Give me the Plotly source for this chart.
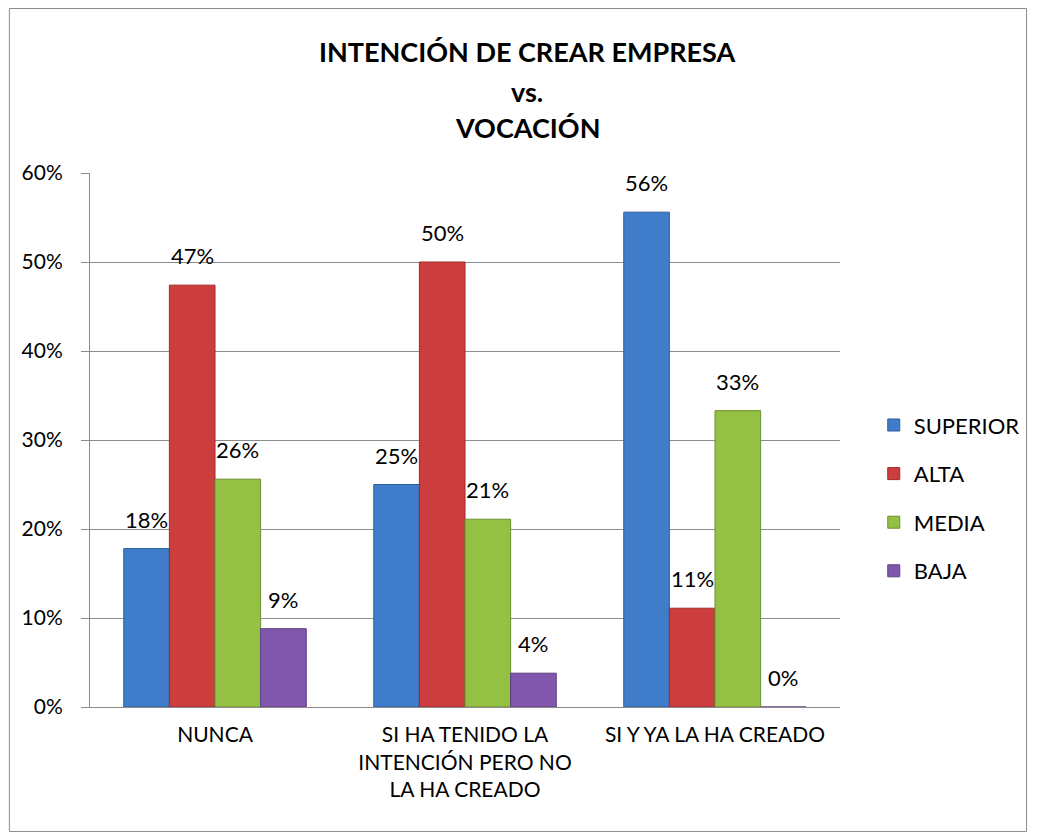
import plotly.graph_objects as go

# Data
categorias = ["NUNCA", "SI HA TENIDO LA<br>INTENCIÓN PERO NO<br>LA HA CREADO", "SI Y YA LA HA CREADO"]
superior = [0.178, 0.25, 0.556]
alta = [0.474, 0.50, 0.111]
media = [0.256, 0.211, 0.333]
baja = [0.088, 0.038, 0.0]

series = [
    ("SUPERIOR", superior, "#3f7dcb", "#2d5f9e"),
    ("ALTA", alta, "#cc3d3d", "#9e2b2b"),
    ("MEDIA", media, "#94c044", "#6e9030"),
    ("BAJA", baja, "#8057ad", "#5e3f83"),
]

FONT = "Lato, Carlito, Calibri, sans-serif"
BARGAP = 0.27

fig = go.Figure()
for name, vals, color, edge in series:
    fig.add_trace(go.Bar(
        x=categorias, y=vals, name=name, legendgroup=name,
        marker=dict(color=color, line=dict(color=edge, width=1)),
        hoverinfo="y",
    ))

# Data labels above each bar (x position follows the grouped bar layout)
n = len(series)
width = (1 - BARGAP) / n
for j, (name, vals, color, edge) in enumerate(series):
    for i, v in enumerate(vals):
        fig.add_annotation(x=i + (j - (n - 1) / 2) * width, y=v, xref="x", yref="y",
                           text=f"{v:.0%}", showarrow=False, yanchor="bottom", yshift=14,
                           font=dict(size=22, color="black", family=FONT))

fig.update_layout(
    width=1029, height=824,
    margin=dict(l=82, r=189, t=165, b=125),
    paper_bgcolor="white", plot_bgcolor="white",
    barmode="group", bargap=BARGAP, bargroupgap=0,
    font=dict(family=FONT, size=22, color="black"),
    showlegend=True,
    legend=dict(x=1.045, y=0.391, xanchor="left", yanchor="middle",
                font=dict(size=22), tracegroupgap=17, bgcolor="rgba(0,0,0,0)"),
)

fig.update_yaxes(range=[0, 0.6], dtick=0.1, tickformat=".0%",
                 showgrid=True, gridcolor="#8c8c8c", gridwidth=1,
                 showline=True, linecolor="#8c8c8c", linewidth=1,
                 ticks="outside", ticklen=8, tickcolor="#8c8c8c",
                 ticklabelstandoff=14,
                 zeroline=False, tickfont=dict(size=21))
fig.update_xaxes(showline=True, linecolor="#8c8c8c", linewidth=1,
                 ticks="", ticklabelstandoff=9, tickfont=dict(size=21))

# Title lines
for txt, ypos in [("INTENCIÓN DE CREAR EMPRESA", 1.2266), ("vs.", 1.1517), ("VOCACIÓN", 1.0843)]:
    fig.add_annotation(text="<b>" + txt + "</b>", xref="paper", yref="paper",
                       x=0.583, y=ypos, xanchor="center", yanchor="middle",
                       showarrow=False, font=dict(size=27, color="black", family=FONT))

# Chart area border
fig.add_shape(type="rect", xref="paper", yref="paper",
              x0=-0.1075, x1=1.2487, y0=-0.2331, y1=1.308,
              line=dict(color="#8c8c8c", width=1))

fig.write_html("out.html")
